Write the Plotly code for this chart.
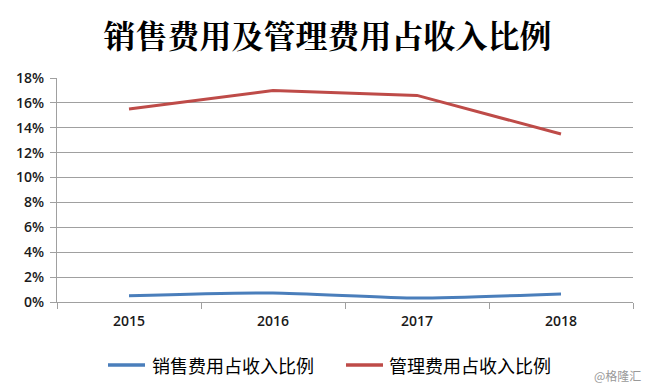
import plotly.graph_objects as go

years = ["2015", "2016", "2017", "2018"]
sales_ratio = [0.0050, 0.0072, 0.0032, 0.0065]
admin_ratio = [0.1550, 0.1700, 0.1660, 0.1350]
y_ticks = [0, 0.02, 0.04, 0.06, 0.08, 0.10, 0.12, 0.14, 0.16, 0.18]
y_labels = ["0%", "2%", "4%", "6%", "8%", "10%", "12%", "14%", "16%", "18%"]
series_names = ["销售费用占收入比例", "管理费用占收入比例"]
series_colors = ["#4a7ebb", "#be4b48"]

fig = go.Figure()
fig.add_trace(go.Scatter(x=years, y=sales_ratio, mode="lines", name=series_names[0],
                         line=dict(color=series_colors[0], width=3, shape="spline", smoothing=0.6)))
fig.add_trace(go.Scatter(x=years, y=admin_ratio, mode="lines", name=series_names[1],
                         line=dict(color=series_colors[1], width=3)))

tick_font = dict(family="Open Sans, Liberation Sans", size=14, color="#1a1a1a", weight=600)

L, T, W, H = 57, 78, 576, 224


def px(x):
    return (x - L) / W


def py(y):
    return (T + H - y) / H


fig.update_layout(
    width=651, height=391,
    margin=dict(l=57, r=18, t=78, b=89, autoexpand=False),
    paper_bgcolor="white", plot_bgcolor="white",
    title=dict(text="<b>销售费用及管理费用占收入比例</b>", x=0.503, xanchor="center",
               xref="container", yref="container", y=1 - 37 / 391, yanchor="middle",
               font=dict(family="Noto Serif CJK SC, Noto Sans CJK SC", size=32, color="#000")),
    showlegend=False,
    font=dict(family="Open Sans, Liberation Sans", size=14, color="#1a1a1a"),
)
fig.update_xaxes(type="category", range=[-0.5, 3.5], showline=True, linecolor="#a0a0a0", linewidth=1,
                 ticks="outside", tickson="boundaries", ticklen=6, tickcolor="#a0a0a0",
                 showgrid=False, tickfont=tick_font, ticklabelstandoff=6, automargin=False)
fig.update_yaxes(range=[0, 0.18], tickvals=y_ticks, ticktext=y_labels, showline=True, linecolor="#a0a0a0",
                 linewidth=1, ticks="outside", ticklen=6, tickcolor="#a0a0a0", showgrid=True,
                 gridcolor="#a0a0a0", gridwidth=1, zeroline=False, tickfont=tick_font,
                 ticklabelstandoff=3, automargin=False)

# manual legend
legend_items = [(108, 145, 150), (346, 383, 387)]
for (x0, x1, xt), name, color in zip(legend_items, series_names, series_colors):
    fig.add_shape(type="line", xref="paper", yref="paper", x0=px(x0), x1=px(x1), y0=py(365), y1=py(365),
                  line=dict(color=color, width=3.5))
    fig.add_annotation(text=name, xref="paper", yref="paper", x=px(xt), y=py(365), xanchor="left",
                       yanchor="middle", showarrow=False,
                       font=dict(family="Noto Sans CJK SC", size=18, color="#000"))

fig.add_annotation(text="@格隆汇", xref="paper", yref="paper", x=px(643), y=py(375),
                   xanchor="right", yanchor="middle", showarrow=False,
                   font=dict(family="Noto Sans CJK SC", size=12, color="#999"))

fig.write_html("out.html", config={"displayModeBar": False},
               post_script="document.body.style.margin='0';document.body.style.overflow='hidden';")
